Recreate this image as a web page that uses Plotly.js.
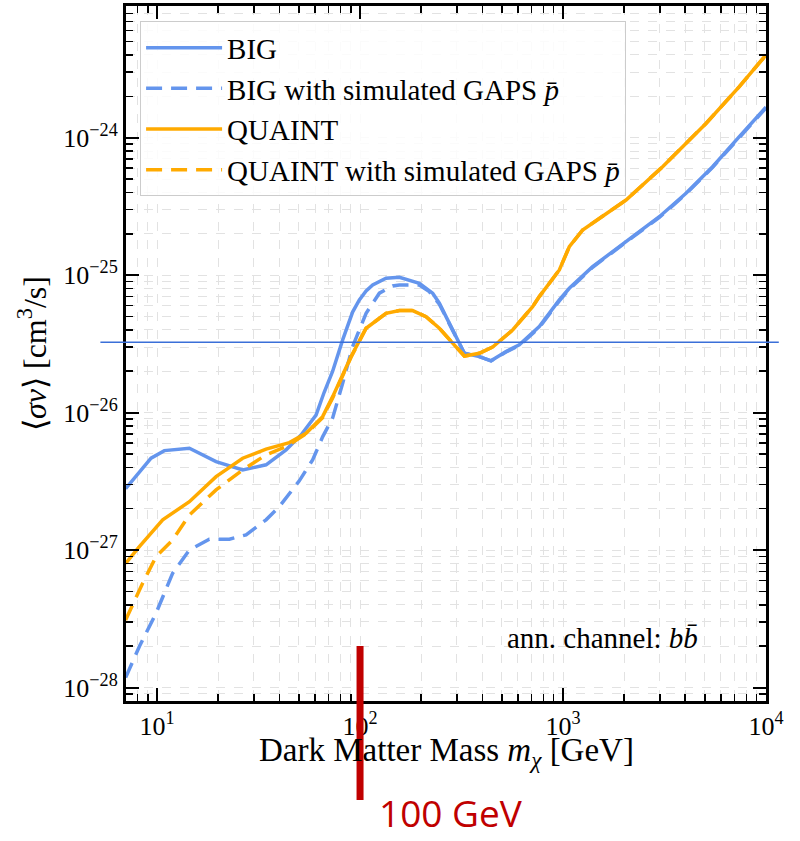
<!DOCTYPE html>
<html>
<head>
<meta charset="utf-8">
<script src="https://cdn.plot.ly/plotly-3.0.1.min.js"></script>
<style>
  html, body { margin: 0; padding: 0; background: #ffffff; }
  #chart { width: 800px; height: 841px; }
</style>
</head>
<body>
<div id="chart"></div>
<script>
// ---- Data ----
const massBIG = [7.0, 9.34, 10.86, 14.43, 19.53, 26.41, 34.43, 43.2, 51.2, 60.7, 66.5, 73.3, 82.1, 91.9, 99.2, 107.1, 115.4, 134.3, 156.2, 181.6, 196, 227.9, 245.9, 265.2, 285.9, 297.2, 326.5, 387, 441.9, 523.9, 609, 764, 959, 1074, 1399, 2203, 2982, 4036, 5458, 7388, 10000];
const sigmaBIG = [2.80e-27, 4.66e-27, 5.29e-27, 5.51e-27, 4.40e-27, 3.83e-27, 4.17e-27, 5.36e-27, 6.88e-27, 9.6e-27, 1.40e-26, 2.0e-26, 3.38e-26, 5.39e-26, 6.60e-26, 7.67e-26, 8.48e-26, 9.49e-26, 9.65e-26, 9.12e-26, 8.73e-26, 7.39e-26, 6.25e-26, 4.99e-26, 3.99e-26, 3.57e-26, 2.70e-26, 2.555e-26, 2.38e-26, 2.78e-26, 3.11e-26, 4.22e-26, 6.60e-26, 8.03e-26, 1.153e-25, 1.905e-25, 2.66e-25, 3.94e-25, 6.15e-25, 1.017e-24, 1.67e-24];

const massBIGgaps = [7.0, 8.18, 9.89, 11.94, 14.43, 18.09, 22.71, 27.45, 34.43, 40.04, 50.2, 58.4, 65.4, 73.3, 82.1, 91.9, 107.1, 124.5, 144.7, 156.2, 196, 219.4, 245.9, 265.2, 285.9, 297.2, 326.5, 387, 441.9, 523.9, 609, 764, 959, 1074, 1399, 2203, 2982, 4036, 5458, 7388, 10000];
const sigmaBIGgaps = [1.18e-28, 1.99e-28, 3.48e-28, 6.79e-28, 1.0e-27, 1.20e-27, 1.20e-27, 1.29e-27, 1.66e-27, 2.07e-27, 3.19e-27, 4.53e-27, 6.66e-27, 9.15e-27, 1.636e-26, 3.02e-26, 5.28e-26, 7.39e-26, 8.34e-26, 8.48e-26, 8.48e-26, 7.59e-26, 6.15e-26, 4.95e-26, 3.97e-26, 3.55e-26, 2.70e-26, 2.55e-26, 2.38e-26, 2.76e-26, 3.08e-26, 4.15e-26, 6.5e-26, 7.9e-26, 1.14e-25, 1.89e-25, 2.63e-25, 3.9e-25, 6.1e-25, 1.0e-24, 1.65e-24];

const massQUAINT = [7.0, 8.18, 10.66, 14.43, 19.53, 26.41, 34.43, 44.85, 54.2, 65.4, 73.3, 90.2, 107.1, 134.3, 156.2, 181.6, 211.4, 245.9, 285.9, 326.5, 387, 450, 564.6, 708.5, 764, 959, 1074, 1249, 2044, 3095, 5063, 7388, 10000];
const sigmaQUAINT = [8.0e-28, 1.06e-27, 1.66e-27, 2.25e-27, 3.42e-27, 4.66e-27, 5.42e-27, 6.05e-27, 7.08e-27, 9.35e-27, 1.307e-26, 2.55e-26, 4.11e-26, 5.28e-26, 5.52e-26, 5.52e-26, 4.99e-26, 4.11e-26, 3.20e-26, 2.58e-26, 2.70e-26, 3.0e-26, 3.99e-26, 5.90e-26, 6.98e-26, 1.091e-25, 1.61e-25, 2.13e-25, 3.52e-25, 6.15e-25, 1.27e-24, 2.35e-24, 4.0e-24];

const massQUAINTgaps = [7.0, 8.49, 9.89, 11.94, 14.43, 19.53, 26.41, 34.43, 43.2, 54.2, 65.4, 73.3, 90.2, 107.1, 134.3, 156.2, 181.6, 211.4, 245.9, 285.9, 326.5, 387, 450, 564.6, 708.5, 764, 959, 1074, 1249, 2044, 3095, 5063, 7388, 10000];
const sigmaQUAINTgaps = [3.1e-28, 5.74e-28, 8.97e-28, 1.186e-27, 1.80e-27, 2.74e-27, 3.83e-27, 4.93e-27, 5.66e-27, 7.0e-27, 9.2e-27, 1.28e-26, 2.52e-26, 4.11e-26, 5.28e-26, 5.52e-26, 5.52e-26, 4.99e-26, 4.11e-26, 3.20e-26, 2.58e-26, 2.70e-26, 3.0e-26, 3.99e-26, 5.90e-26, 6.98e-26, 1.091e-25, 1.61e-25, 2.13e-25, 3.52e-25, 6.15e-25, 1.27e-24, 2.35e-24, 4.0e-24];

const seriesNames = ['BIG', 'BIG with simulated GAPS <i>p̄</i>', 'QUAINT', 'QUAINT with simulated GAPS <i>p̄</i>'];

const xTickVals = [10, 100, 1000, 10000];
const xTickText = ['10<sup>1</sup>', '10<sup>2</sup>', '10<sup>3</sup>', '10<sup>4</sup>'];
const yTickVals = [1e-28, 1e-27, 1e-26, 1e-25, 1e-24];
const yTickText = ['10<sup>−28</sup>', '10<sup>−27</sup>', '10<sup>−26</sup>', '10<sup>−25</sup>', '10<sup>−24</sup>'];

const xTitle = 'Dark Matter Mass <i>m</i><sub><i>χ</i></sub> [GeV]';
const yTitle = '⟨<i>σv</i>⟩ [cm<sup>3</sup>/s]';

const refLineSigma = 3.25e-26;   // horizontal reference line
const markerMass = 100;          // red "100 GeV" marker
const markerLabel = '100 GeV';
const channelLabel = 'ann. channel: <i>b</i><i>b̄</i>';

// ---- Axis ranges (log10 units) ----
const xRange = [Math.log10(7.03), 4];
const yRange = [-28.098, -23.042];

// minor tick positions
const xMinor = [];
for (let d = 0; d <= 3; d++) for (let k = 2; k <= 9; k++) {
  const v = k * Math.pow(10, d);
  if (Math.log10(v) > xRange[0] && Math.log10(v) < xRange[1]) xMinor.push(v);
}
const yMinor = [];
for (let d = -29; d <= -24; d++) for (let k = 2; k <= 9; k++) {
  const v = k * Math.pow(10, d);
  if (Math.log10(v) > yRange[0] && Math.log10(v) < yRange[1]) yMinor.push(v);
}

const BLUE = '#6495ED';
const ORANGE = '#FFAA00';
const SERIF = 'Liberation Serif, Times New Roman, serif';

const traces = [
  {x: massBIG, y: sigmaBIG, name: seriesNames[0], legendgroup: 'a', mode: 'lines', line: {color: BLUE, width: 3.5}},
  {x: massBIGgaps, y: sigmaBIGgaps, name: seriesNames[1], legendgroup: 'b', mode: 'lines', line: {color: BLUE, width: 3.5, dash: '16px,9px'}},
  {x: massQUAINT, y: sigmaQUAINT, name: seriesNames[2], legendgroup: 'c', mode: 'lines', line: {color: ORANGE, width: 3.5}},
  {x: massQUAINTgaps, y: sigmaQUAINTgaps, name: seriesNames[3], legendgroup: 'd', mode: 'lines', line: {color: ORANGE, width: 3.5, dash: '16px,9px'}}
];

const yPaper = v => (Math.log10(v) - yRange[0]) / (yRange[1] - yRange[0]);
const xPaper = v => (Math.log10(v) - xRange[0]) / (xRange[1] - xRange[0]);

const gridCol = '#e2e2e2';

const layout = {
  width: 800, height: 841,
  margin: {l: 126, r: 34, t: 6, b: 140, pad: 0},
  paper_bgcolor: '#ffffff', plot_bgcolor: '#ffffff',
  font: {family: SERIF, color: '#000000', size: 26},
  showlegend: true,
  xaxis: {
    type: 'log', range: xRange,
    tickmode: 'array', tickvals: xTickVals, ticktext: xTickText,
    ticks: 'inside', ticklen: 13, tickwidth: 2, tickcolor: '#000',
    showline: true, linewidth: 3, linecolor: '#000', mirror: 'allticks',
    showgrid: true, gridcolor: gridCol, gridwidth: 1, griddash: 'dash',
    zeroline: false,
    tickfont: {family: SERIF, size: 26, color: '#000'},
    minor: {tickmode: 'array', tickvals: xMinor, ticks: 'inside', ticklen: 7, tickwidth: 1.5, tickcolor: '#000',
            showgrid: true, gridcolor: gridCol, gridwidth: 1, griddash: 'dash'}
  },
  yaxis: {
    type: 'log', range: yRange,
    tickmode: 'array', tickvals: yTickVals, ticktext: yTickText,
    ticks: 'inside', ticklen: 13, tickwidth: 2, tickcolor: '#000',
    showline: true, linewidth: 3, linecolor: '#000', mirror: 'allticks',
    showgrid: true, gridcolor: gridCol, gridwidth: 1, griddash: 'dash',
    zeroline: false,
    tickfont: {family: SERIF, size: 26, color: '#000'},
    minor: {tickmode: 'array', tickvals: yMinor, ticks: 'inside', ticklen: 7, tickwidth: 1.5, tickcolor: '#000',
            showgrid: true, gridcolor: gridCol, gridwidth: 1, griddash: 'dash'},
    title: {text: yTitle, font: {family: SERIF, size: 32, color: '#000'}, standoff: 8}
  },
  legend: {
    x: 0.022, y: 0.978, xanchor: 'left', yanchor: 'top',
    bgcolor: 'rgba(255,255,255,0.85)', bordercolor: '#cccccc', borderwidth: 1,
    font: {family: SERIF, size: 29, color: '#000'},
    traceorder: 'grouped', tracegroupgap: 0, itemwidth: 76
  },
  shapes: [
    {type: 'line', xref: 'paper', yref: 'paper', x0: -0.04, x1: 1.02,
     y0: yPaper(refLineSigma), y1: yPaper(refLineSigma), line: {color: '#3a6fd8', width: 1.5}, layer: 'above'},
    {type: 'line', xref: 'paper', yref: 'paper', x0: xPaper(markerMass), x1: xPaper(markerMass),
     y0: 0.079, y1: -0.1424, line: {color: '#C00000', width: 7}, layer: 'above'}
  ],
  annotations: [
    {xref: 'paper', yref: 'paper', x: 0.5, y: -0.0745, xanchor: 'center', yanchor: 'middle', showarrow: false,
     text: xTitle, font: {family: SERIF, size: 33, color: '#000'}},
    {xref: 'paper', yref: 'paper', x: 0.744, y: 0.0906, xanchor: 'center', yanchor: 'middle', showarrow: false,
     text: channelLabel, font: {family: SERIF, size: 29, color: '#000'}},
    {xref: 'paper', yref: 'paper', x: xPaper(markerMass) + 0.027, y: -0.161, xanchor: 'left', yanchor: 'middle', showarrow: false,
     text: markerLabel, font: {family: 'Open Sans, Liberation Sans, sans-serif', size: 37, color: '#C00000'}}
  ]
};

Plotly.newPlot('chart', traces, layout, {displayModeBar: false, staticPlot: true});
</script>
</body>
</html>
